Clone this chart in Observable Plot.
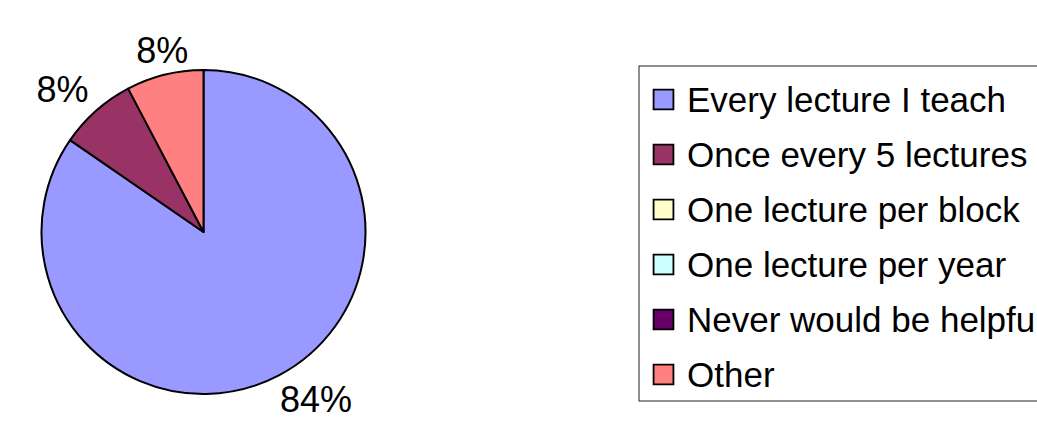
<!DOCTYPE html>
<html>
<head>
<meta charset="utf-8">
<script src="https://cdn.jsdelivr.net/npm/d3@7"></script>
<script src="https://cdn.jsdelivr.net/npm/@observablehq/plot@0.6"></script>
<style>
  html, body { margin: 0; padding: 0; background: #fff; }
  #chart { position: relative; width: 1037px; height: 422px; overflow: hidden; background: #fff;
           font-family: Arial, "Liberation Sans", sans-serif; }
  #pie { position: absolute; left: 0; top: 0; width: 600px; height: 422px; }
  #legend { position: absolute; left: 638px; top: 65px; width: 440px; height: 336px; }
  #chart svg { max-width: none !important; }
</style>
</head>
<body>
<div id="chart"><div id="pie"></div><div id="legend"></div></div>
<script>
// ---- data ----
const categories = [
  "Every lecture I teach",
  "Once every 5 lectures",
  "One lecture per block",
  "One lecture per year",
  "Never would be helpful",
  "Other"
];
const shares = [84.6, 7.7, 0, 0, 0, 7.7];          // slice sizes (%)
const shareLabels = ["84%", "8%", "", "", "", "8%"]; // data labels as printed
const colors = ["#9999FF", "#993366", "#FFFFCC", "#CCFFFF", "#660066", "#FF8080"];

// ---- layout ----
const H = 422;
const pieBox = {cx: 203.5, cy: 232, r: 162};
const labelFont = 36;
const legendFont = 35;
const font = "Arial, 'Liberation Sans', sans-serif";

const color = Plot.scale({color: {type: "ordinal", domain: categories, range: colors}});

const rows = categories.map((c, i) => ({category: c, share: shares[i], label: shareLabels[i]}));
const arcs = d3.pie().sort(null).value(d => d.share)(rows);

// label positions in unit-circle coordinates (pushed outward by the label's box)
function textWidth(s) { return d3.sum(Array.from(s), ch => ch === "%" ? 0.889 : 0.556) * labelFont; }
const push = v => Math.sign(v) * Math.max(0, Math.min(1, (Math.abs(v) - 0.25) * 4));
const labelData = arcs.filter(a => a.value > 0 && a.data.label).map(a => {
  const m = (a.startAngle + a.endAngle) / 2;
  const ux = Math.sin(m), uy = Math.cos(m);
  const R = 1 + 12 / pieBox.r;
  const w = textWidth(a.data.label), h = 0.716 * labelFont;
  return {
    label: a.data.label,
    x: ux * R + push(ux) * (w / 2) / pieBox.r,
    y: uy * R + push(uy) * (h / 2) / pieBox.r
  };
});

const piePlot = Plot.plot({
  width: 600, height: H,
  margin: 0,
  style: {background: "white", fontFamily: font, overflow: "visible", maxWidth: "none"},
  x: {domain: [-1, 1], range: [pieBox.cx - pieBox.r, pieBox.cx + pieBox.r], axis: null},
  y: {domain: [-1, 1], range: [pieBox.cy + pieBox.r, pieBox.cy - pieBox.r], axis: null},
  marks: [
    (index, scales) => {
      const cx = scales.x(0), cy = scales.y(0), r = scales.x(1) - scales.x(0);
      const arcGen = d3.arc().innerRadius(0).outerRadius(r);
      const g = d3.create("svg:g").attr("transform", `translate(${cx},${cy})`);
      g.selectAll("path")
        .data(arcs.filter(a => a.value > 0))
        .join("path")
        .attr("d", arcGen)
        .attr("fill", d => color.apply(d.data.category))
        .attr("stroke", "black")
        .attr("stroke-width", 2)
        .attr("stroke-linejoin", "round");
      return g.node();
    },
    Plot.text(labelData, {
      x: "x", y: "y", text: "label",
      fontSize: labelFont, fontFamily: font, fill: "black",
      textAnchor: "middle", lineAnchor: "middle", dy: 1
    })
  ]
});
document.getElementById("pie").appendChild(piePlot);

const legendPlot = Plot.plot({
  width: 440, height: 336,
  marginTop: 0.5, marginLeft: 0.5, marginRight: 0.5, marginBottom: 0.5,
  style: {background: "white", fontFamily: font, overflow: "visible", maxWidth: "none"},
  y: {type: "point", domain: categories, range: [32, 310], padding: 0, axis: null},
  color: {type: "ordinal", domain: categories, range: colors},
  marks: [
    Plot.frame({stroke: "#222", strokeWidth: 1}),
    Plot.dot(categories, {
      y: d => d, frameAnchor: "left", dx: 24.5,
      symbol: "square", r: 11.2, fill: d => d, stroke: "black", strokeWidth: 1.8
    }),
    Plot.text(categories, {
      y: d => d, text: d => d, frameAnchor: "left", dx: 48,
      textAnchor: "start", lineAnchor: "middle", dy: 1,
      fontSize: legendFont, fontFamily: font, fill: "black"
    })
  ]
});
document.getElementById("legend").appendChild(legendPlot);
</script>
</body>
</html>
